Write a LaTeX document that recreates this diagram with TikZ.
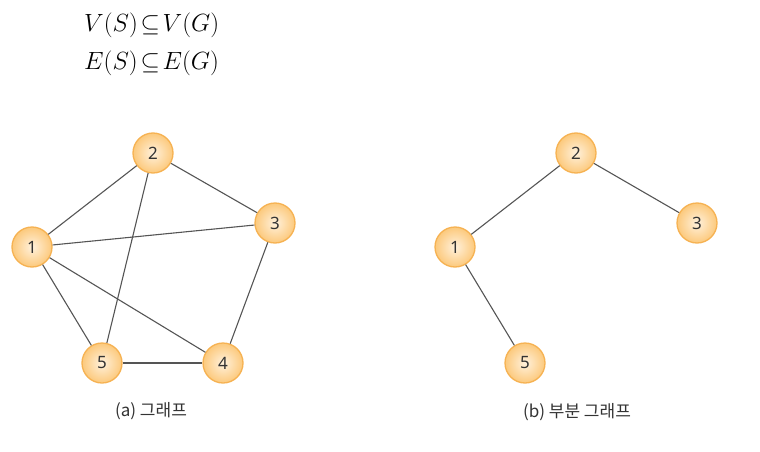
\documentclass[tikz,border=0pt]{standalone}
\usepackage{fontspec}
\newfontfamily\kofont{Noto Sans CJK KR}
\newfontfamily\numfont{Noto Sans}
\definecolor{vfill}{HTML}{FCC97C}
\definecolor{vcore}{HTML}{FFF1DC}
\definecolor{vline}{HTML}{F6B252}
\definecolor{eline}{HTML}{555555}
\definecolor{txt}{HTML}{333333}
\tikzset{
    vertex/.style={circle,minimum size=40pt,inner sep=0pt,draw=vline,line width=1.3pt,
      inner color=vcore,outer color=vfill,text=txt,font=\numfont\fontsize{17}{19}\selectfont},
    edge/.style={draw=eline,line width=1.1pt},
    caption/.style={text=txt,font=\kofont\fontsize{17}{20}\selectfont},
  }
\begin{document}
\begin{tikzpicture}[x=1pt,y=-1pt]
				  %cadre
				  \useasboundingbox (0,0) rectangle (760,452);
				  %formules
				  \node[anchor=west,inner sep=0pt] (fv) at (84,25) {\fontsize{24.5}{28}\selectfont $V(S)\!\subseteq\! V(G)$};
				  \node[anchor=west,inner sep=0pt] (fe) at (84,63) {\fontsize{24.5}{28}\selectfont $E(S)\!\subseteq\! E(G)$};
				  %(a) graphe
				  \node[vertex] (a1) at (32,247) {1};
				  \node[vertex] (a2) at (153,153) {2};
				  \node[vertex] (a3) at (275,223) {3};
				  \node[vertex] (a4) at (223,363) {4};
				  \node[vertex] (a5) at (102,363) {5};
				  \draw[edge] (a1) -- (a2);
				  \draw[edge] (a2) -- (a3);
				  \draw[edge] (a1) -- (a3);
				  \draw[edge] (a3) -- (a4);
				  \draw[edge] (a1) -- (a4);
				  \draw[edge] (a1) -- (a5);
				  \draw[edge] (a2) -- (a5);
				  \draw[edge] (a5) -- (a4);
				  \node[caption] (ca) at (151,411) {(a) 그래프};
				  %(b) sous-graphe
				  \node[vertex] (b1) at (455,247) {1};
				  \node[vertex] (b2) at (576,153) {2};
				  \node[vertex] (b3) at (697,223) {3};
				  \node[vertex] (b5) at (525,363) {5};
				  \draw[edge] (b1) -- (b2);
				  \draw[edge] (b2) -- (b3);
				  \draw[edge] (b1) -- (b5);
				  \node[caption] (cb) at (577,412) {(b) 부분 그래프};
				  \end{tikzpicture}
\end{document}
